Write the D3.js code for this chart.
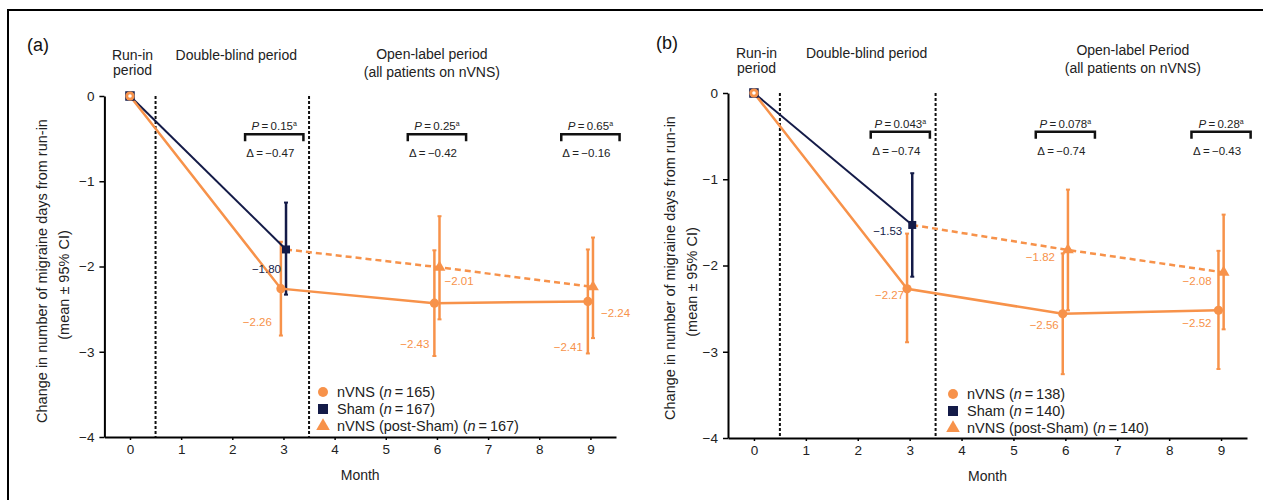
<!DOCTYPE html>
<html>
<head>
<meta charset="utf-8">
<script src="https://cdn.jsdelivr.net/npm/d3@7"></script>
<style>
  body { margin: 0; background: #fff; }
  svg { font-family: "Liberation Sans", Arial, Helvetica, sans-serif; }
</style>
</head>
<body>
<div id="chart"></div>
<script>
// months and tick values
const months = [0, 3, 6, 9];
const postMonths = [6, 9];
const xTicks = [0, 1, 2, 3, 4, 5, 6, 7, 8, 9];
const yTicks = [0, -1, -2, -3, -4];

// panel (a)
const aNvnsMean = [0, -2.26, -2.43, -2.41];
const aNvnsLow = [0, -2.81, -3.05, -3.02];
const aNvnsHigh = [0, -1.71, -1.81, -1.80];
const aShamMean = [0, -1.80];
const aShamLow = [0, -2.33];
const aShamHigh = [0, -1.25];
const aPostMean = [-2.01, -2.24];
const aPostLow = [-2.62, -2.84];
const aPostHigh = [-1.41, -1.66];
const aPValues = ["0.15", "0.25", "0.65"];
const aDeltas = ["\u22120.47", "\u22120.42", "\u22120.16"];
const aN = ["165", "167", "167"];

// panel (b)
const bNvnsMean = [0, -2.27, -2.56, -2.52];
const bNvnsLow = [0, -2.89, -3.26, -3.20];
const bNvnsHigh = [0, -1.63, -1.86, -1.83];
const bShamMean = [0, -1.53];
const bShamLow = [0, -2.13];
const bShamHigh = [0, -0.93];
const bPostMean = [-1.82, -2.08];
const bPostLow = [-2.52, -2.74];
const bPostHigh = [-1.12, -1.41];
const bPValues = ["0.043", "0.078", "0.28"];
const bDeltas = ["\u22120.74", "\u22120.74", "\u22120.43"];
const bN = ["138", "140", "140"];

const bracketMonths = [2.82, 6, 9];

const orange = "#f7924a";
const navy = "#141b48";

const width = 1263, height = 500;
const svg = d3.select("#chart").append("svg")
    .attr("width", width)
    .attr("height", height);

// outer frame (top and left visible)
svg.append("path")
    .attr("d", "M8,510 L8,10 L1270,10")
    .attr("fill", "none")
    .attr("stroke", "#000")
    .attr("stroke-width", 2);

const fmt = v => (v < 0 ? "\u2212" : "") + Math.abs(v).toFixed(2);
const tickFmt = v => (v < 0 ? "\u2212" : "") + Math.abs(v);

function drawPanel(p) {
    const x = d3.scaleLinear().domain([-0.5, 9.5]).range([p.left, p.right]);
    const y = d3.scaleLinear().domain([-4, 0]).range([p.bottom, p.top]);
    const g = svg.append("g");

    // axes
    const yAxis = g.append("g")
        .attr("transform", `translate(${p.left},0)`)
        .call(d3.axisLeft(y).tickValues(yTicks).tickFormat(tickFmt)
            .tickSize(5).tickSizeOuter(0).tickPadding(5));
    const xAxis = g.append("g")
        .attr("transform", `translate(0,${p.bottom})`)
        .call(d3.axisBottom(x).tickValues(xTicks).tickFormat(tickFmt)
            .tickSize(3).tickSizeOuter(0).tickPadding(4));
    [yAxis, xAxis].forEach(a => {
        a.select(".domain").attr("stroke-width", 2);
        a.selectAll(".tick line").attr("stroke-width", 1.5);
        a.selectAll(".tick text").attr("font-size", 13.5).attr("fill", "#222")
            .attr("font-family", "Liberation Sans, Arial, sans-serif");
    });

    // dashed period dividers
    [0.5, 3.5].forEach(m => {
        g.append("line")
            .attr("x1", x(m)).attr("x2", x(m))
            .attr("y1", y(0)).attr("y2", y(-4))
            .attr("stroke", "#111").attr("stroke-width", 2)
            .attr("stroke-dasharray", "3,2");
    });

    // headers
    g.append("text").attr("x", p.labelX).attr("y", p.labelY)
        .attr("font-size", 18).attr("fill", "#111").text(p.label);
    const runIn = g.append("text").attr("text-anchor", "middle")
        .attr("font-size", 14).attr("fill", "#222");
    runIn.append("tspan").attr("x", x(0.05)).attr("y", p.headY).text("Run-in");
    runIn.append("tspan").attr("x", x(0.05)).attr("y", p.headY + 15).text("period");
    g.append("text").attr("x", x(0.5) + p.dbGap).attr("y", p.headY)
        .attr("font-size", 14).attr("fill", "#222").text("Double-blind period");
    const open = g.append("text").attr("text-anchor", "middle")
        .attr("font-size", 14).attr("fill", "#222");
    open.append("tspan").attr("x", x(p.openCenter)).attr("y", p.openY).text(p.openTitle);
    open.append("tspan").attr("x", x(p.openCenter)).attr("y", p.openY + 18).text("(all patients on nVNS)");

    // axis titles
    g.append("text")
        .attr("transform", `translate(${p.yTitleX},${p.yTitleC}) rotate(-90)`)
        .attr("text-anchor", "middle").attr("font-size", 14.5).attr("fill", "#222")
        .text("Change in number of migraine days from run-in");
    g.append("text")
        .attr("transform", `translate(${p.yTitleX + 22},${p.yTitleC + 14}) rotate(-90)`)
        .attr("text-anchor", "middle").attr("font-size", 14.5).attr("fill", "#222")
        .text("(mean \u00b1 95% CI)");
    g.append("text").attr("x", x(4.5)).attr("y", p.bottom + 43)
        .attr("text-anchor", "middle").attr("font-size", 14).attr("fill", "#222")
        .text("Month");

    // brackets with P and delta
    bracketMonths.forEach((m, i) => {
        const x0 = x(m - 0.57), x1 = x(m + 0.57), yb = y(-0.45);
        g.append("path")
            .attr("d", `M${x0},${yb + 7} L${x0},${yb} L${x1},${yb} L${x1},${yb + 7}`)
            .attr("fill", "none").attr("stroke", "#111").attr("stroke-width", 2.5);
        const t = g.append("text").attr("x", x(m)).attr("y", yb - 4)
            .attr("text-anchor", "middle").attr("font-size", 11.5).attr("fill", "#222");
        t.append("tspan").attr("font-style", "italic").text("P");
        t.append("tspan").text("\u2009=\u2009" + p.pVals[i]);
        t.append("tspan").attr("dy", -4).attr("font-size", 7).text("a");
        g.append("text").attr("x", x(m) - 4).attr("y", yb + 23)
            .attr("text-anchor", "middle").attr("font-size", 11.5).attr("fill", "#222")
            .text("\u0394\u2009=\u2009" + p.deltas[i]);
    });

    const errorBar = (xm, lo, hi, color) => {
        g.append("line").attr("x1", xm).attr("x2", xm)
            .attr("y1", y(lo)).attr("y2", y(hi))
            .attr("stroke", color).attr("stroke-width", 2.5);
        [lo, hi].forEach(v => g.append("line")
            .attr("x1", xm - 2).attr("x2", xm + 2)
            .attr("y1", y(v)).attr("y2", y(v))
            .attr("stroke", color).attr("stroke-width", 2));
    };

    const nvnsX = m => x(m === 0 ? 0 : m - 0.05);
    const shamX = m => x(m === 0 ? 0 : m + 0.05);
    const postX = m => x(m + 0.05);

    // error bars
    months.forEach((m, i) => { if (m > 0) errorBar(nvnsX(m), p.nvnsLow[i], p.nvnsHigh[i], orange); });
    errorBar(shamX(3), p.shamLow[1], p.shamHigh[1], navy);
    postMonths.forEach((m, i) => errorBar(postX(m), p.postLow[i], p.postHigh[i], orange));

    // lines
    const line = d3.line().x(d => d[0]).y(d => y(d[1]));
    g.append("path")
        .datum([[shamX(0), p.shamMean[0]], [shamX(3), p.shamMean[1]]])
        .attr("d", line).attr("fill", "none").attr("stroke", navy).attr("stroke-width", 2);
    g.append("path")
        .datum(months.map((m, i) => [nvnsX(m), p.nvnsMean[i]]))
        .attr("d", line).attr("fill", "none").attr("stroke", orange).attr("stroke-width", 2.5);
    g.append("path")
        .datum([[shamX(3), p.shamMean[1]]].concat(postMonths.map((m, i) => [postX(m), p.postMean[i]])))
        .attr("d", line).attr("fill", "none").attr("stroke", orange).attr("stroke-width", 2.5)
        .attr("stroke-dasharray", "6,4");

    // markers
    const sq = d3.symbol().type(d3.symbolSquare).size(64);
    const tri = d3.symbol().type(d3.symbolTriangle).size(60);
    g.append("path").attr("d", sq)
        .attr("transform", `translate(${shamX(0)},${y(0)})`)
        .attr("fill", "#fff").attr("stroke", navy).attr("stroke-width", 1.5);
    g.append("path").attr("d", sq)
        .attr("transform", `translate(${shamX(3)},${y(p.shamMean[1])})`)
        .attr("fill", navy);
    months.forEach((m, i) => {
        g.append("circle").attr("cx", nvnsX(m)).attr("cy", y(p.nvnsMean[i]))
            .attr("r", 4.6).attr("fill", orange);
    });
    g.append("circle").attr("cx", nvnsX(0)).attr("cy", y(0)).attr("r", 1.8).attr("fill", "#fff");
    postMonths.forEach((m, i) => {
        g.append("path").attr("d", tri)
            .attr("transform", `translate(${postX(m)},${y(p.postMean[i])})`)
            .attr("fill", orange);
    });

    // value labels
    const valueLabel = (px, py, v, off, color) => {
        g.append("text").attr("x", px + off[0]).attr("y", py + off[1])
            .attr("text-anchor", off[2]).attr("font-size", 11.5).attr("fill", color)
            .text(fmt(v));
    };
    valueLabel(shamX(3), y(p.shamMean[1]), p.shamMean[1], p.offSham, navy);
    [1, 2, 3].forEach(i => valueLabel(nvnsX(months[i]), y(p.nvnsMean[i]), p.nvnsMean[i], p.offNvns[i - 1], orange));
    postMonths.forEach((m, i) => valueLabel(postX(m), y(p.postMean[i]), p.postMean[i], p.offPost[i], orange));

    // legend
    const lg = g.append("g").attr("transform", `translate(${p.legX},${p.legY})`);
    const names = ["nVNS", "Sham", "nVNS (post-Sham)"];
    names.forEach((nm, i) => {
        const cy = i * 17;
        if (i === 0) lg.append("circle").attr("cx", 0).attr("cy", cy).attr("r", 5).attr("fill", orange);
        if (i === 1) lg.append("rect").attr("x", -5).attr("y", cy - 5).attr("width", 10).attr("height", 10).attr("fill", navy);
        if (i === 2) lg.append("path").attr("d", d3.symbol().type(d3.symbolTriangle).size(80))
            .attr("transform", `translate(0,${cy})`).attr("fill", orange);
        const t = lg.append("text").attr("x", 14).attr("y", cy + 5)
            .attr("font-size", 14.5).attr("fill", "#222");
        t.append("tspan").text(nm + " (");
        t.append("tspan").attr("font-style", "italic").text("n");
        t.append("tspan").text("\u2009=\u2009" + p.n[i] + ")");
    });
}

drawPanel({
    left: 104.4, right: 616, top: 96, bottom: 437,
    label: "(a)", labelX: 27, labelY: 51, headY: 60, openY: 59, openCenter: 5.9,
    openTitle: "Open-label period", dbGap: 20,
    yTitleX: 47, yTitleC: 271,
    nvnsMean: aNvnsMean, nvnsLow: aNvnsLow, nvnsHigh: aNvnsHigh,
    shamMean: aShamMean, shamLow: aShamLow, shamHigh: aShamHigh,
    postMean: aPostMean, postLow: aPostLow, postHigh: aPostHigh,
    pVals: aPValues, deltas: aDeltas, n: aN,
    offSham: [-5, 24, "end"],
    offNvns: [[-9, 37, "end"], [-5, 45, "end"], [-5, 50, "end"]],
    offPost: [[5, 18, "start"], [8, 30, "start"]],
    legX: 323, legY: 392
});

drawPanel({
    left: 728, right: 1247, top: 93, bottom: 438,
    label: "(b)", labelX: 656, labelY: 49, headY: 58, openY: 55, openCenter: 7.3,
    openTitle: "Open-label Period", dbGap: 26,
    yTitleX: 675, yTitleC: 268,
    nvnsMean: bNvnsMean, nvnsLow: bNvnsLow, nvnsHigh: bNvnsHigh,
    shamMean: bShamMean, shamLow: bShamLow, shamHigh: bShamHigh,
    postMean: bPostMean, postLow: bPostLow, postHigh: bPostHigh,
    pVals: bPValues, deltas: bDeltas, n: bN,
    offSham: [-10, 10, "end"],
    offNvns: [[-3, 10, "end"], [-4, 15, "end"], [-7, 17, "end"]],
    offPost: [[-13, 11, "end"], [-12, 13, "end"]],
    legX: 953, legY: 394
});
</script>
</body>
</html>
